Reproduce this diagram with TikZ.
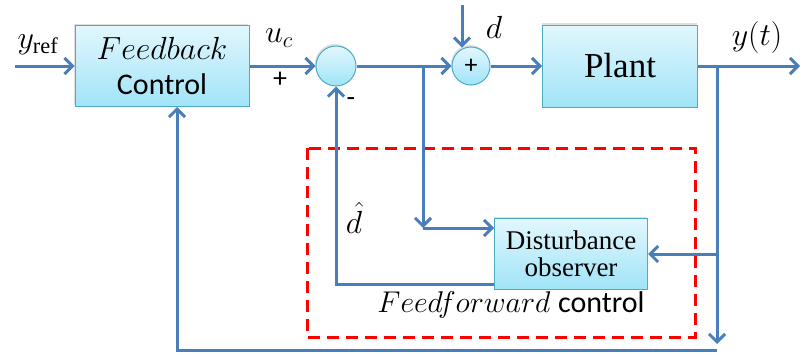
\RequirePackage{fix-cm}
\documentclass[tikz,border=0pt]{standalone}
\usepackage{fontspec}
\setmainfont{Liberation Serif}
\newfontfamily\calfont{Carlito}
\usetikzlibrary{arrows.meta,shadows}
\definecolor{linkblue}{RGB}{74,126,187}
\definecolor{boxedge}{RGB}{75,172,198}
\definecolor{boxtop}{RGB}{226,247,253}
\definecolor{boxbot}{RGB}{160,228,248}

\begin{document}
\begin{tikzpicture}[x=1pt, y=-1pt,
  blk/.style={draw=boxedge, line width=1pt, top color=boxtop, bottom color=boxbot,
    drop shadow={opacity=0.25, shadow xshift=-1pt, shadow yshift=2pt}, inner sep=0pt},
  sumc/.style={blk, circle, minimum size=40pt},
  sig/.style={draw=linkblue, line width=3pt},
  arr/.style={sig, -{Straight Barb[length=8pt, width=16pt, line width=3pt]}},
  lbl/.style={font=\fontsize{32}{34}\selectfont}]

\useasboundingbox (0,0) rectangle (803,356);

% -------- Feedforward region -----------
\draw [red, line width=3pt, dash pattern=on 12pt off 7pt] (307,148) rectangle (695,337);

% -------- Blocks -----------
\node [blk, minimum width=174pt, minimum height=81pt, align=center, font=\fontsize{32}{35}\selectfont] (fb) at (162,66)
  {$Feedback$\\{\calfont\fontsize{30}{35}\selectfont Control}};
\node [sumc] (s1) at (336,66) {};
\node [sumc, minimum size=38pt, font=\calfont\fontsize{26}{26}\selectfont] (s2) at (471,66) {+};
\node [blk, minimum width=155pt, minimum height=82pt, font=\fontsize{35}{38}\selectfont] (plant) at (620,66) {Plant};
\node [blk, minimum width=153pt, minimum height=71pt, align=center, font=\fontsize{27}{27}\selectfont] (dob) at (571,254)
  {Disturbance\\observer};

% -------- Branch points -----------
\coordinate (yin)  at (15,66);
\coordinate (yout) at (800,66);
\coordinate (utap) at (423,66);
\coordinate (ucor) at (423,228);
\coordinate (ytap) at (717,66);
\coordinate (ybot) at (717,344);
\coordinate (fbl)  at (717,350);
\coordinate (dtop) at (462,5);

% -------- Signals -----------
\draw [arr] (yin) -- (fb);
\draw [arr] (fb) -- (s1);
\draw [arr] (s1) -- (s2);
\draw [arr] (dtop) -- (dtop |- s2.110);
\draw [arr] (s2) -- (plant);
\draw [arr] (plant) -- (yout);

\draw [arr] (utap) -- (ucor);
\draw [arr] (ucor) -- (dob.west |- ucor);
\draw [arr] (ytap) -- (ybot);
\draw [arr] (ytap |- dob.east) -- (dob.east);
\draw [arr] ([yshift=6pt]dob.south west) -| (s1);
\draw [arr] (fbl) -| ([xshift=15pt]fb.south);

% -------- Labels -----------
\node [lbl] (yref) at (38,45) {$y_{\mathrm{ref}}$};
\node [lbl] (uc)   at (279,38) {$u_c$};
\node [font=\calfont\fontsize{28}{28}\selectfont] (plus)  at (280,80) {+};
\node [font=\calfont\fontsize{28}{28}\selectfont] (minus) at (351,102) {-};
\node [lbl] (dl)   at (494,27) {$d$};
\node [lbl] (yt)   at (757,38) {$y(t)$};
\node [lbl, inner sep=1pt] (dh) at (354,218) {$\hat{d}$};
\node [font=\fontsize{30}{32}\selectfont] (ffl) at (511,305) {$Feedforward$ {\calfont control}};
\end{tikzpicture}
\end{document}
